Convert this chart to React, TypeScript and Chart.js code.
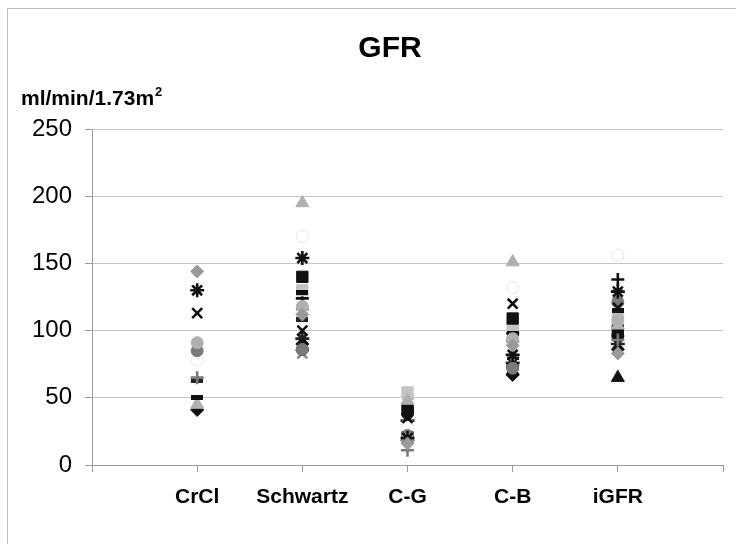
import React, { useEffect, useRef } from "react";
import { Chart, registerables } from "chart.js";

Chart.register(...registerables);

const categories = ["CrCl", "Schwartz", "C-G", "C-B", "iGFR"];
const yTicks = [0, 50, 100, 150, 200, 250];

// marker style + colour per patient series
const seriesStyles = [
  { name: "P1", marker: "diamond", color: "#9a9a9a" },
  { name: "P2", marker: "star", color: "#111111" },
  { name: "P3", marker: "x", color: "#111111" },
  { name: "P4", marker: "circle", color: "#b0b0b0" },
  { name: "P5", marker: "circle", color: "#7a7a7a" },
  { name: "P6", marker: "circle", color: "#ffffff", border: "#e6e6e6" },
  { name: "P7", marker: "plus", color: "#7a7a7a" },
  { name: "P8", marker: "dash", color: "#111111" },
  { name: "P9", marker: "triangle", color: "#b0b0b0" },
  { name: "P10", marker: "diamond", color: "#111111" },
  { name: "P11", marker: "square", color: "#111111" },
  { name: "P12", marker: "square", color: "#c4c4c4" },
  { name: "P13", marker: "plus", color: "#111111" },
  { name: "P14", marker: "dash", color: "#bdbdbd" },
  { name: "P15", marker: "triangle", color: "#111111" },
  { name: "P16", marker: "circle", color: "#111111" },
  { name: "P17", marker: "x", color: "#8a8a8a" },
  { name: "P18", marker: "star", color: "#222222" },
  { name: "P19", marker: "dash", color: "#222222" },
];

// values per series: [CrCl, Schwartz, C-G, C-B, iGFR]
const P1 = [144, 112, 16, 89, 83];
const P2 = [130, 154, 20, 82, 129];
const P3 = [113, 100, 35, 120, 117];
const P4 = [91, 118, 19, 94, 108];
const P5 = [85, 86, 22, 72, 121];
const P6 = [78, 170, 28, 132, 156];
const P7 = [65, 116, 11, 92, 93];
const P8 = [50, 128, 42, 98, 115];
const P9 = [45, 195, 48, 151, 104];
const P10 = [41, 90, 18, 67, 86];
const P11 = [null, 140, 41, 109, 100];
const P12 = [null, 130, 54, 104, 109];
const P13 = [null, 124, 38, 98, 138];
const P14 = [null, 132, 50, 103, 155];
const P15 = [null, 88, 21, 70, 65];
const P16 = [null, 86, 23, 73, 96];
const P17 = [null, 83, 30, 78, 127];
const P18 = [null, 94, 33, 76, 90];
const P19 = [63, 108, 40, 80, 97];

const seriesValues = [P1, P2, P3, P4, P5, P6, P7, P8, P9, P10, P11, P12, P13, P14, P15, P16, P17, P18, P19];

function dashMarker(color: string): HTMLCanvasElement {
  const c = document.createElement("canvas");
  c.width = 12;
  c.height = 5;
  const ctx = c.getContext("2d")!;
  ctx.fillStyle = color;
  ctx.fillRect(0, 0, 12, 5);
  return c;
}

const markerMap: Record<string, string> = {
  diamond: "rectRot",
  star: "star",
  x: "crossRot",
  circle: "circle",
  plus: "cross",
  triangle: "triangle",
  square: "rect",
};

const radiusMap: Record<string, number> = {
  diamond: 6.5,
  star: 7,
  x: 7,
  circle: 6,
  plus: 6.5,
  triangle: 7.5,
  square: 8,
  dash: 6,
};

const textPlugin = {
  id: "texts",
  afterDraw(chart: any) {
    const ctx = chart.ctx;
    ctx.save();
    ctx.fillStyle = "#000";
    ctx.textBaseline = "alphabetic";
    ctx.textAlign = "center";
    ctx.font = "bold 30px 'Liberation Sans', Arial, sans-serif";
    ctx.fillText("GFR", 390, 57);
    ctx.textAlign = "left";
    ctx.font = "bold 21px 'Liberation Sans', Arial, sans-serif";
    const base = "ml/min/1.73m";
    ctx.fillText(base, 21, 105);
    const w = ctx.measureText(base).width;
    ctx.font = "bold 13px 'Liberation Sans', Arial, sans-serif";
    ctx.fillText("2", 21 + w + 1, 96);
    ctx.restore();
  },
};

export default function App() {
  const ref = useRef<HTMLCanvasElement>(null);
  useEffect(() => {
    if (!ref.current) return;
    const datasets = seriesStyles.map((s, i) => {
      const vals = seriesValues[i];
      const data = vals
        .map((v, j) => (v === null ? null : { x: j + 1, y: v }))
        .filter((p) => p !== null);
      const isLine = s.marker === "star" || s.marker === "x" || s.marker === "plus";
      return {
        label: s.name,
        data,
        pointStyle: s.marker === "dash" ? dashMarker(s.color) : markerMap[s.marker],
        pointRadius: radiusMap[s.marker],
        pointBackgroundColor: s.color,
        pointBorderColor: (s as any).border || s.color,
        pointBorderWidth: isLine ? 2.6 : 1,
        showLine: false,
      };
    });
    const chart = new Chart(ref.current, {
      type: "scatter",
      data: { datasets: datasets as any },
      plugins: [textPlugin],
      options: {
        responsive: false,
        animation: false,
        layout: { padding: { top: 129, right: 11, left: 0, bottom: 0 } },
        plugins: {
          legend: { display: false },
          tooltip: { enabled: false },
        },
        scales: {
          x: {
            type: "linear",
            min: 0,
            max: 6,
            afterFit: (scale: any) => {
              scale.height = 79;
            },
            afterBuildTicks: (scale: any) => {
              scale.ticks = [0, 1, 2, 3, 4, 5, 6].map((v) => ({ value: v }));
            },
            ticks: {
              autoSkip: false,
              maxRotation: 0,
              padding: 13,
              color: "#000",
              font: { family: "'Liberation Sans', Arial, sans-serif", size: 21, weight: "bold" },
              callback: (v: any) => (v >= 1 && v <= 5 ? categories[v - 1] : ""),
            },
            grid: {
              drawOnChartArea: false,
              drawTicks: true,
              tickLength: 7,
              color: "#9a9a9a",
            },
            border: { color: "#9a9a9a", width: 1 },
          },
          y: {
            min: 0,
            max: 250,
            afterFit: (scale: any) => {
              scale.width = 92;
            },
            afterBuildTicks: (scale: any) => {
              scale.ticks = yTicks.map((v) => ({ value: v }));
            },
            ticks: {
              padding: 13,
              color: "#000",
              font: { family: "'Liberation Sans', Arial, sans-serif", size: 24 },
            },
            grid: {
              color: "#c4c4c4",
              tickLength: 7,
              tickColor: "#9a9a9a",
            },
            border: { color: "#9a9a9a", width: 1 },
          },
        },
      },
    });
    return () => chart.destroy();
  }, []);

  return (
    <div
      style={{
        position: "fixed",
        left: 0,
        top: 0,
        width: 736,
        height: 544,
        overflow: "hidden",
        background: "#fff",
      }}
    >
      <div
        style={{
          position: "absolute",
          left: 7,
          top: 8,
          width: 740,
          height: 560,
          borderLeft: "1px solid #bdbdbd",
          borderTop: "1px solid #bdbdbd",
        }}
      />
      <canvas ref={ref} width={736} height={544} style={{ position: "absolute", left: 0, top: 0 }} />
    </div>
  );
}
